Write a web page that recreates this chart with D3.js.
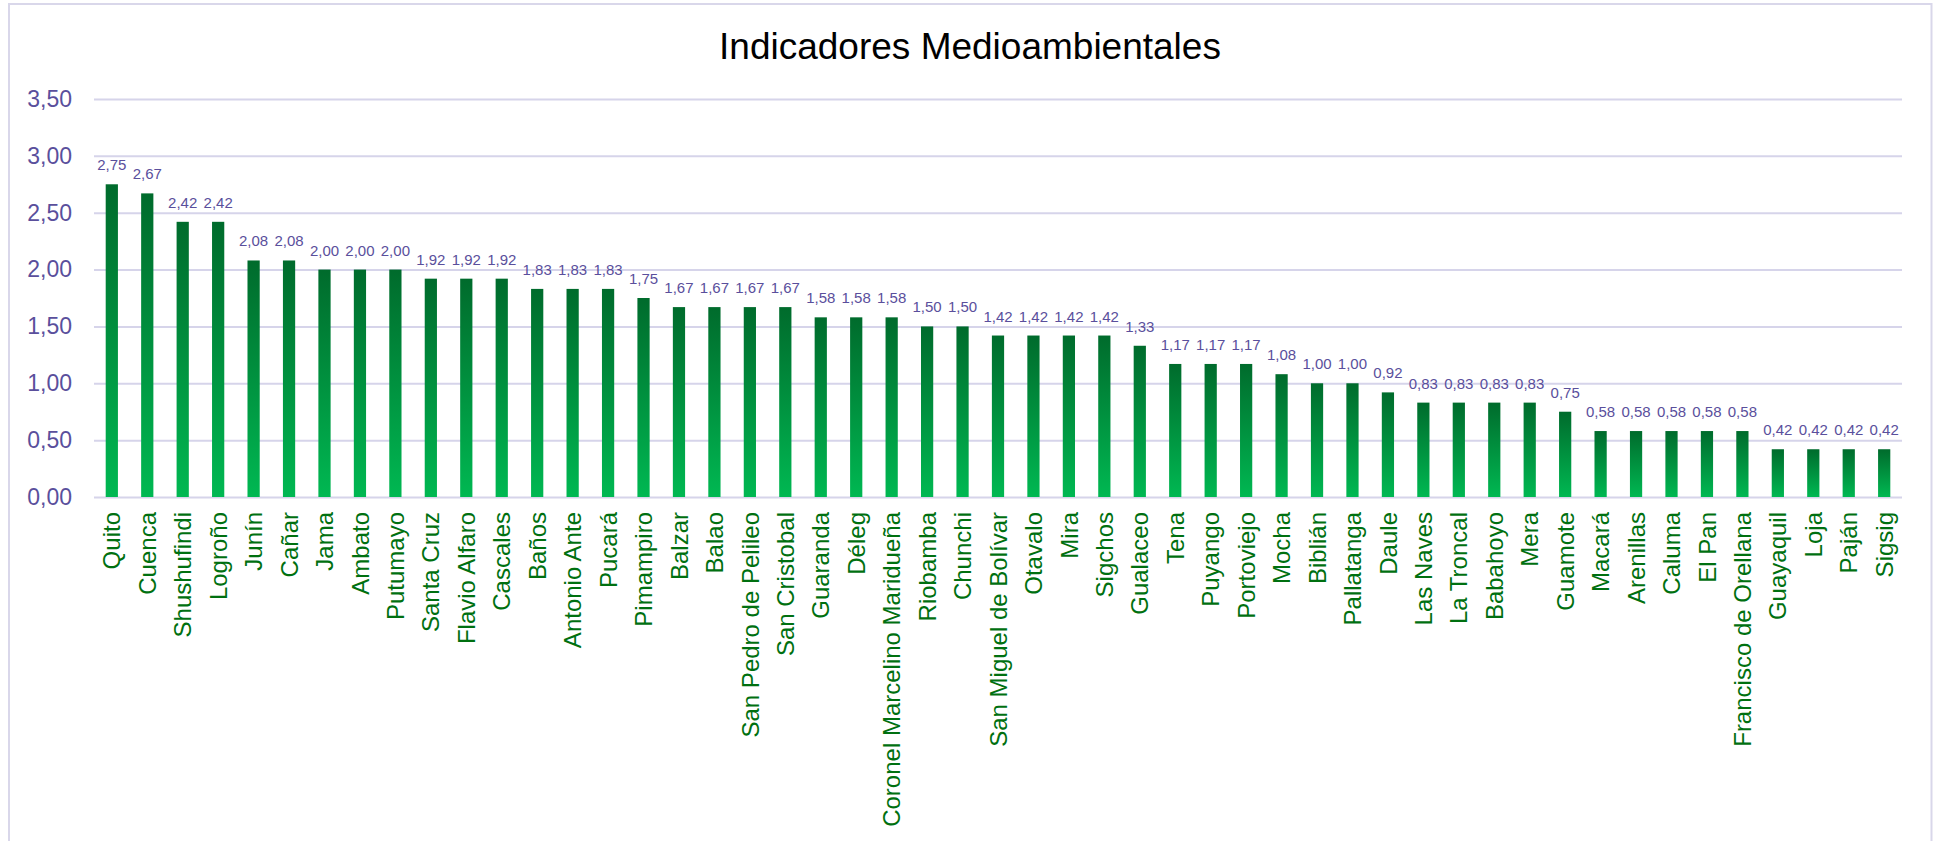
<!DOCTYPE html>
<html><head><meta charset="utf-8">
<script src="https://cdn.jsdelivr.net/npm/d3@7"></script>
<style>body{margin:0;background:#fff;}svg{display:block;font-family:"Liberation Sans",Arial,sans-serif;}</style>
</head><body>
<svg id="chart" width="1933" height="841"></svg>
<script>
const title = "Indicadores Medioambientales";
const categories = ["Quito","Cuenca","Shushufindi","Logroño","Junín","Cañar","Jama","Ambato","Putumayo","Santa Cruz","Flavio Alfaro","Cascales","Baños","Antonio Ante","Pucará","Pimampiro","Balzar","Balao","San Pedro de Pelileo","San Cristobal","Guaranda","Déleg","Coronel Marcelino Maridueña","Riobamba","Chunchi","San Miguel de Bolívar","Otavalo","Mira","Sigchos","Gualaceo","Tena","Puyango","Portoviejo","Mocha","Biblián","Pallatanga","Daule","Las Naves","La Troncal","Babahoyo","Mera","Guamote","Macará","Arenillas","Caluma","El Pan","Francisco de Orellana","Guayaquil","Loja","Paján","Sigsig"];
const values = [2.75,2.67,2.42,2.42,2.08,2.08,2.00,2.00,2.00,1.92,1.92,1.92,1.83,1.83,1.83,1.75,1.67,1.67,1.67,1.67,1.58,1.58,1.58,1.50,1.50,1.42,1.42,1.42,1.42,1.33,1.17,1.17,1.17,1.08,1.00,1.00,0.92,0.83,0.83,0.83,0.83,0.75,0.58,0.58,0.58,0.58,0.58,0.42,0.42,0.42,0.42];
const yTicks = [0,0.5,1,1.5,2,2.5,3,3.5];

(function(){
const svg = d3.select("#chart");
const W = 1933, H = 841;
const pL = 94, pR = 1902, pT = 99, pB = 497;
const fmt = v => d3.format(".2f")(v).replace(".", ",");

// frame
svg.append("rect").attr("x",9).attr("y",4).attr("width",1922.5).attr("height",H+10)
  .attr("fill","#fff").attr("stroke","#d9d7ea").attr("stroke-width",2);

const x = d3.scaleBand().domain(categories).range([pL,pR]).paddingInner(0.655).paddingOuter(0.33);
const y = d3.scaleLinear().domain([0,3.5]).range([pB,pT]);

const defs = svg.append("defs");
const grad = defs.append("linearGradient").attr("id","g").attr("x1",0).attr("y1",0).attr("x2",0).attr("y2",1);
grad.append("stop").attr("offset","0%").attr("stop-color","#006b2c");
grad.append("stop").attr("offset","100%").attr("stop-color","#00b852");

// gridlines
const yAxis = d3.axisLeft(y).tickValues(yTicks).tickFormat(fmt).tickSize(-(pR-pL)).tickPadding(22);
const ga = svg.append("g").attr("transform",`translate(${pL},0)`).call(yAxis);
ga.select(".domain").remove();
ga.selectAll(".tick line").attr("stroke","#d6d4ea").attr("stroke-width",2);
ga.selectAll(".tick text").attr("fill","#5a4f9c").attr("font-size",23).attr("font-family","Liberation Sans, Arial, sans-serif");

// bars
svg.append("g").selectAll("rect").data(values).join("rect")
  .attr("x",(d,i)=>x(categories[i]))
  .attr("y",d=>y(d))
  .attr("width",x.bandwidth())
  .attr("height",d=>pB-y(d))
  .attr("fill","url(#g)");

// value labels
svg.append("g").selectAll("text").data(values).join("text")
  .attr("x",(d,i)=>x(categories[i])+x.bandwidth()/2)
  .attr("y",d=>y(d)-14)
  .attr("text-anchor","middle")
  .attr("font-size",15)
  .attr("fill","#5a4f9c")
  .text(d=>fmt(d));

// category labels
const xAxis = d3.axisBottom(x).tickSize(0).tickPadding(0);
const gx = svg.append("g").attr("transform",`translate(0,${pB})`).call(xAxis);
gx.select(".domain").remove();
gx.selectAll(".tick text")
  .attr("transform","rotate(-90)")
  .attr("text-anchor","end")
  .attr("x",-15).attr("y",0).attr("dy","0.36em")
  .attr("font-size",24)
  .attr("font-family","Liberation Sans, Arial, sans-serif")
  .attr("fill","#007010");

// title
svg.append("text").attr("x",970).attr("y",58.5).attr("text-anchor","middle")
  .attr("font-size",37).attr("fill","#000")
  .text(title);
})();
</script>
</body></html>
